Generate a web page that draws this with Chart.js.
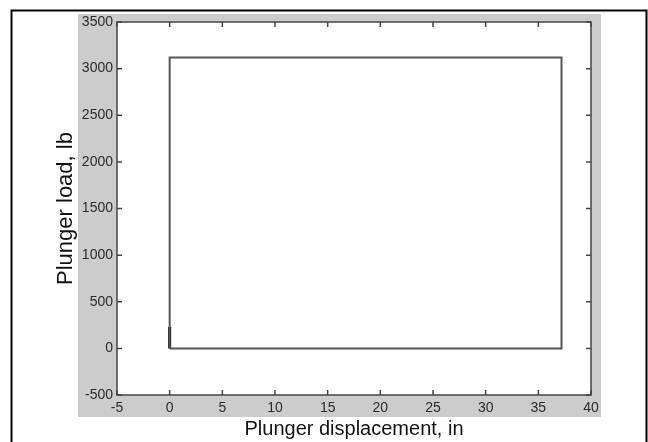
<!DOCTYPE html>
<html>
<head>
<meta charset="utf-8">
<script src="https://cdn.jsdelivr.net/npm/chart.js@4"></script>
<style>
  html, body { margin: 0; padding: 0; background: #fff; }
  #wrap { width: 648px; height: 442px; }
</style>
</head>
<body>
<div id="wrap"><canvas id="chart" width="648" height="442"></canvas></div>
<script>
// plunger load loop (displacement in, load lb)
var loopX = [0, 0, 37.2, 37.2, 0];
var loopY = [0, 3120, 3120, 0, 0];
// short initial rise drawn in black
var spikeX = [0, 0];
var spikeY = [0, 230];
var xTicks = [-5, 0, 5, 10, 15, 20, 25, 30, 35, 40];
var yTicks = [-500, 0, 500, 1000, 1500, 2000, 2500, 3000, 3500];

var toPoints = (xs, ys) => xs.map((x, i) => ({ x: x, y: ys[i] }));

var tickFont = { family: "'Liberation Sans', Arial, sans-serif", size: 14 };

// gray figure background + outer frame
var backdrop = {
    id: 'backdrop',
    beforeDraw(chart) {
        const ctx = chart.ctx;
        ctx.save();
        ctx.fillStyle = '#fff';
        ctx.fillRect(0, 0, chart.width, chart.height);
        ctx.fillStyle = '#cccccc';
        ctx.fillRect(78, 14, 523, 403);
        ctx.strokeStyle = '#000';
        ctx.lineWidth = 2;
        ctx.strokeRect(11.5, 10.5, 635, 480);
        const a = chart.chartArea;
        ctx.fillStyle = '#fff';
        ctx.fillRect(a.left, a.top, a.right - a.left, a.bottom - a.top);
        ctx.restore();
    },
    afterDraw(chart) {
        const ctx = chart.ctx;
        const a = chart.chartArea;
        const xs = chart.scales.x, ys = chart.scales.y;
        ctx.save();
        ctx.strokeStyle = '#444';
        ctx.lineWidth = 1.5;
        ctx.strokeRect(a.left, a.top, a.right - a.left, a.bottom - a.top);
        ctx.beginPath();
        xTicks.forEach(v => {
            const p = xs.getPixelForValue(v);
            ctx.moveTo(p, a.bottom); ctx.lineTo(p, a.bottom - 5);
            ctx.moveTo(p, a.top); ctx.lineTo(p, a.top + 5);
        });
        yTicks.forEach(v => {
            const p = ys.getPixelForValue(v);
            ctx.moveTo(a.left, p); ctx.lineTo(a.left + 5, p);
            ctx.moveTo(a.right, p); ctx.lineTo(a.right - 5, p);
        });
        ctx.stroke();
        ctx.restore();
    }
};

new Chart(document.getElementById('chart'), {
    type: 'scatter',
    data: {
        datasets: [{
            data: toPoints(loopX, loopY),
            showLine: true,
            borderColor: '#555',
            borderWidth: 2,
            pointRadius: 0,
            fill: false
        }, {
            data: toPoints(spikeX, spikeY),
            showLine: true,
            borderColor: '#000',
            borderWidth: 3,
            pointRadius: 0,
            fill: false
        }]
    },
    options: {
        responsive: false,
        animation: false,
        layout: { padding: { left: 0, top: 22, right: 57, bottom: 0 } },
        plugins: { legend: { display: false }, tooltip: { enabled: false } },
        scales: {
            x: {
                type: 'linear',
                min: -5, max: 40,
                afterBuildTicks: s => { s.ticks = xTicks.map(v => ({ value: v })); },
                afterFit: s => { s.height = 47; },
                grid: { display: true, drawOnChartArea: false, drawTicks: false },
                border: { display: false },
                ticks: { font: tickFont, color: '#2a2a2a', padding: 5, maxRotation: 0,
                         callback: v => String(v) },
                title: {
                    display: true,
                    text: 'Plunger displacement, in',
                    font: { family: "'Liberation Sans', Arial, sans-serif", size: 20 },
                    color: '#111',
                    padding: { top: 0, bottom: 1 }
                }
            },
            y: {
                type: 'linear',
                min: -500, max: 3500,
                afterBuildTicks: s => { s.ticks = yTicks.map(v => ({ value: v })); },
                afterFit: s => { s.width = 117; },
                grid: { display: true, drawOnChartArea: false, drawTicks: false },
                border: { display: false },
                ticks: { font: tickFont, color: '#2a2a2a', padding: 4,
                         callback: v => String(v) },
                title: {
                    display: true,
                    text: 'Plunger load, lb',
                    font: { family: "'Liberation Sans', Arial, sans-serif", size: 22 },
                    color: '#111',
                    padding: { top: 53, bottom: 0 }
                }
            }
        }
    },
    plugins: [backdrop]
});
</script>
</body>
</html>
